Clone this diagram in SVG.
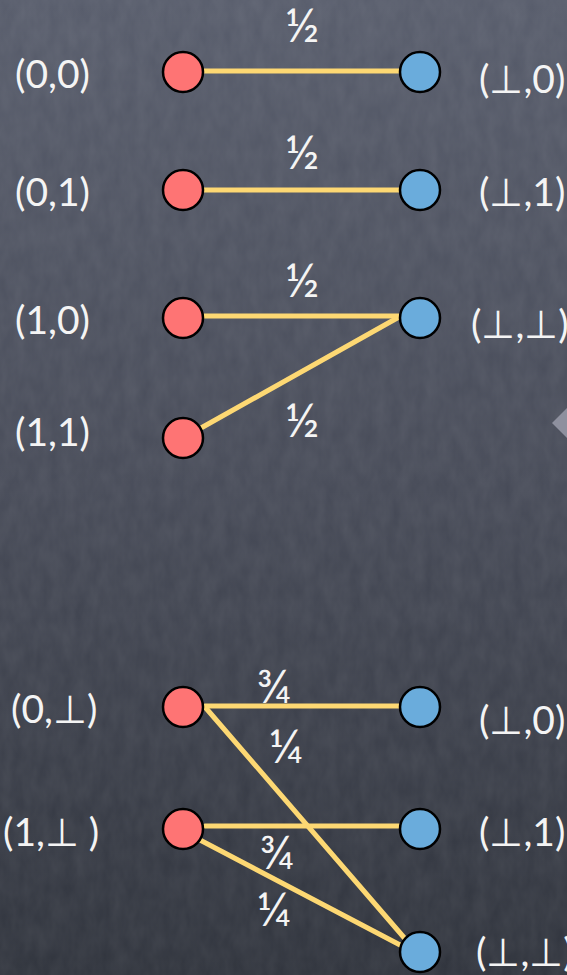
<svg xmlns="http://www.w3.org/2000/svg" width="567" height="975" viewBox="0 0 567 975">
<defs>
<linearGradient id="bg" x1="0" y1="0" x2="0" y2="1">
<stop offset="0" stop-color="#575c6b"/>
<stop offset="0.5" stop-color="#464a57"/>
<stop offset="1" stop-color="#2f333c"/>
</linearGradient>
<filter id="noise" x="0" y="0" width="100%" height="100%">
<feTurbulence type="fractalNoise" baseFrequency="0.08 0.04" numOctaves="3" seed="4"/>
<feColorMatrix type="matrix" values="0 0 0 0 1  0 0 0 0 1  0 0 0 0 1  0 0 0 0.08 0"/>
</filter>
<style>
.red{fill:#fe7474;stroke:#000;stroke-width:2.5}
.blue{fill:#6aacdc;stroke:#000;stroke-width:2.5}
.edge{stroke:#fdd873;stroke-width:5;fill:none;stroke-linecap:round}
.lbl{font-family:Lato,"Open Sans",sans-serif;font-size:39px;fill:#f4f4f4}
.frac{font-family:Lato,"DejaVu Sans",sans-serif;font-size:47px;fill:#f4f4f4;text-anchor:middle}
</style>
</defs>
<rect width="567" height="975" fill="url(#bg)"/>
<rect width="567" height="975" filter="url(#noise)"/>
<polygon points="552,423 567,408 567,438" fill="#8e909e"/>
<g id="connectors">
<line class="edge" x1="204" y1="71" x2="399" y2="71"/>
<line class="edge" x1="204" y1="190" x2="399" y2="190"/>
<line class="edge" x1="204" y1="316" x2="399" y2="316"/>
<line class="edge" x1="201" y1="428" x2="399" y2="317"/>
<line class="edge" x1="205" y1="706" x2="399" y2="706"/>
<line class="edge" x1="205" y1="707" x2="407" y2="941"/>
<line class="edge" x1="205" y1="826" x2="399" y2="826"/>
<line class="edge" x1="200" y1="840" x2="402" y2="946"/>
</g>
<g id="edge-labels">
<text class="frac" x="302" y="42">½</text>
<text class="frac" x="302" y="169">½</text>
<text class="frac" x="302" y="297">½</text>
<text class="frac" x="302" y="437">½</text>
<text class="frac" x="274" y="703">¾</text>
<text class="frac" x="286" y="763">¼</text>
<text class="frac" x="277" y="869">¾</text>
<text class="frac" x="274" y="926">¼</text>
</g>
<g id="n00"><circle class="red" cx="183" cy="72" r="20"/><text class="lbl" x="15" y="88">(0,0)</text></g>
<g id="n01"><circle class="red" cx="183" cy="190" r="20"/><text class="lbl" x="15" y="206">(0,1)</text></g>
<g id="n10"><circle class="red" cx="183" cy="318" r="20"/><text class="lbl" x="15" y="334">(1,0)</text></g>
<g id="n11"><circle class="red" cx="183" cy="438" r="20"/><text class="lbl" x="15" y="446">(1,1)</text></g>
<g id="b0"><circle class="blue" cx="420" cy="72" r="20"/><text class="lbl" x="479" y="93">(⊥,0)</text></g>
<g id="b1"><circle class="blue" cx="420" cy="190" r="20"/><text class="lbl" x="479" y="206">(⊥,1)</text></g>
<g id="bb"><circle class="blue" cx="420" cy="318" r="20"/><text class="lbl" x="471" y="338">(⊥,⊥)</text></g>
<g id="n0b"><circle class="red" cx="183" cy="707" r="20"/><text class="lbl" x="11" y="723">(0,⊥)</text></g>
<g id="n1b"><circle class="red" cx="183" cy="829" r="20"/><text class="lbl" x="3" y="846">(1,⊥ )</text></g>
<g id="b0b"><circle class="blue" cx="420" cy="707" r="20"/><text class="lbl" x="479" y="734">(⊥,0)</text></g>
<g id="b1b"><circle class="blue" cx="420" cy="829" r="20"/><text class="lbl" x="479" y="846">(⊥,1)</text></g>
<g id="bbb"><circle class="blue" cx="420" cy="952" r="20"/><text class="lbl" x="476" y="966">(⊥,⊥)</text></g>
</svg>
